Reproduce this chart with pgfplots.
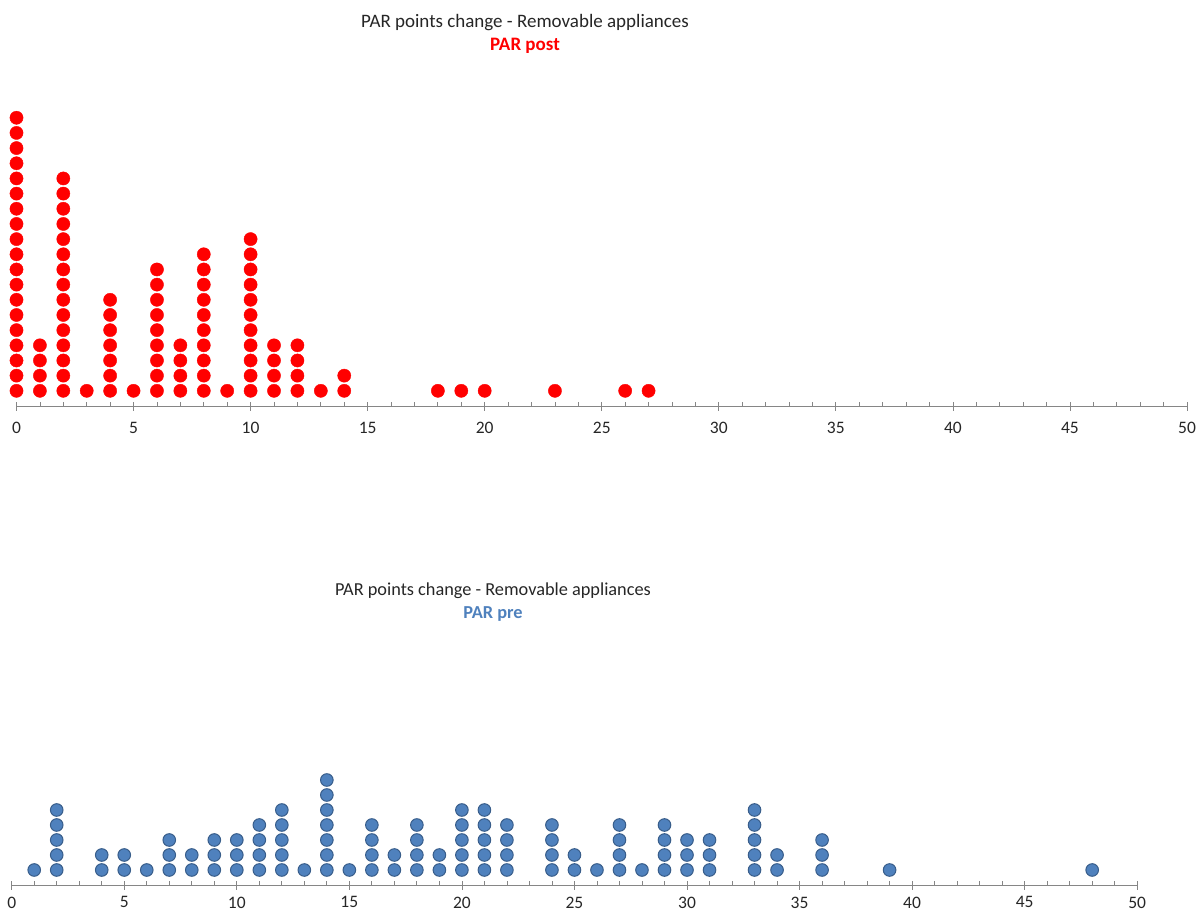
\documentclass[border=0pt]{standalone}
\usepackage{pgfplots}
\pgfplotsset{compat=1.18}
\usepackage{fontspec}
\setmainfont{Carlito}

\definecolor{axisgray}{HTML}{868686}
\definecolor{postred}{HTML}{FF0000}
\definecolor{prefill}{HTML}{4F81BD}
\definecolor{preedge}{HTML}{385D8A}
\definecolor{txt}{HTML}{262626}

\pgfplotsset{
  dotaxis/.style={
    scale only axis,
    xmin=0, xmax=50, ymin=0, ymax=20,
    axis x line=bottom, axis y line=none,
    x axis line style={-, draw=axisgray, line width=0.8pt},
    xtick={0,5,...,50}, minor x tick num=4,
    tick align=inside,
    major tick length=9pt, minor tick length=4pt,
    every major tick/.append style={yshift=-5pt},
    tick style={draw=axisgray, line width=0.8pt},
    xticklabel style={text=txt, font=\fontsize{17.5}{20}\selectfont},
    /pgf/number format/assume math mode=true,
    clip=false,
  },
}

\begin{document}
\begin{tikzpicture}[font=\fontsize{19}{22}\selectfont]
\useasboundingbox (0,0) rectangle (1197pt,912pt);

% PAR post
\node[text=txt] at (525pt,889pt) {PAR points change - Removable appliances};
\node[text=postred, font=\fontsize{19}{22}\selectfont\bfseries] at (525pt,866pt) {PAR post};
\begin{axis}[dotaxis, x=23.41pt, y=15.17pt, at={(16.5pt,506pt)}, anchor=south west,
  xticklabel style={yshift=-13pt}]
\addplot[only marks, mark=*, mark size=6.6pt, color=postred] coordinates {
 (0,1)(0,2)(0,3)(0,4)(0,5)(0,6)(0,7)(0,8)(0,9)(0,10)(0,11)(0,12)(0,13)(0,14)(0,15)(0,16)(0,17)(0,18)(0,19)
 (1,1)(1,2)(1,3)(1,4)
 (2,1)(2,2)(2,3)(2,4)(2,5)(2,6)(2,7)(2,8)(2,9)(2,10)(2,11)(2,12)(2,13)(2,14)(2,15)
 (3,1)
 (4,1)(4,2)(4,3)(4,4)(4,5)(4,6)(4,7)
 (5,1)
 (6,1)(6,2)(6,3)(6,4)(6,5)(6,6)(6,7)(6,8)(6,9)
 (7,1)(7,2)(7,3)(7,4)
 (8,1)(8,2)(8,3)(8,4)(8,5)(8,6)(8,7)(8,8)(8,9)(8,10)
 (9,1)
 (10,1)(10,2)(10,3)(10,4)(10,5)(10,6)(10,7)(10,8)(10,9)(10,10)(10,11)
 (11,1)(11,2)(11,3)(11,4)
 (12,1)(12,2)(12,3)(12,4)
 (13,1)
 (14,1)(14,2)
 (18,1)(19,1)(20,1)(23,1)(26,1)(27,1)
};
\end{axis}

% PAR pre
\node[text=txt, font=\fontsize{18.3}{21}\selectfont] at (493pt,321pt) {PAR points change - Removable appliances};
\node[text=prefill, font=\fontsize{18.3}{21}\selectfont\bfseries] at (493pt,298pt) {PAR pre};
\begin{axis}[dotaxis, x=22.51pt, y=15pt, at={(11.7pt,27pt)}, anchor=south west,
  xticklabel style={inner sep=0pt, yshift=-11.5pt}]
\addplot[only marks, mark=*, mark size=6.3pt, mark options={fill=prefill, draw=preedge, line width=1pt}] coordinates {
 (1,1)
 (2,1)(2,2)(2,3)(2,4)(2,5)
 (4,1)(4,2)
 (5,1)(5,2)
 (6,1)
 (7,1)(7,2)(7,3)
 (8,1)(8,2)
 (9,1)(9,2)(9,3)
 (10,1)(10,2)(10,3)
 (11,1)(11,2)(11,3)(11,4)
 (12,1)(12,2)(12,3)(12,4)(12,5)
 (13,1)
 (14,1)(14,2)(14,3)(14,4)(14,5)(14,6)(14,7)
 (15,1)
 (16,1)(16,2)(16,3)(16,4)
 (17,1)(17,2)
 (18,1)(18,2)(18,3)(18,4)
 (19,1)(19,2)
 (20,1)(20,2)(20,3)(20,4)(20,5)
 (21,1)(21,2)(21,3)(21,4)(21,5)
 (22,1)(22,2)(22,3)(22,4)
 (24,1)(24,2)(24,3)(24,4)
 (25,1)(25,2)
 (26,1)
 (27,1)(27,2)(27,3)(27,4)
 (28,1)
 (29,1)(29,2)(29,3)(29,4)
 (30,1)(30,2)(30,3)
 (31,1)(31,2)(31,3)
 (33,1)(33,2)(33,3)(33,4)(33,5)
 (34,1)(34,2)
 (36,1)(36,2)(36,3)
 (39,1)
 (48,1)
};
\end{axis}
\end{tikzpicture}
\end{document}
